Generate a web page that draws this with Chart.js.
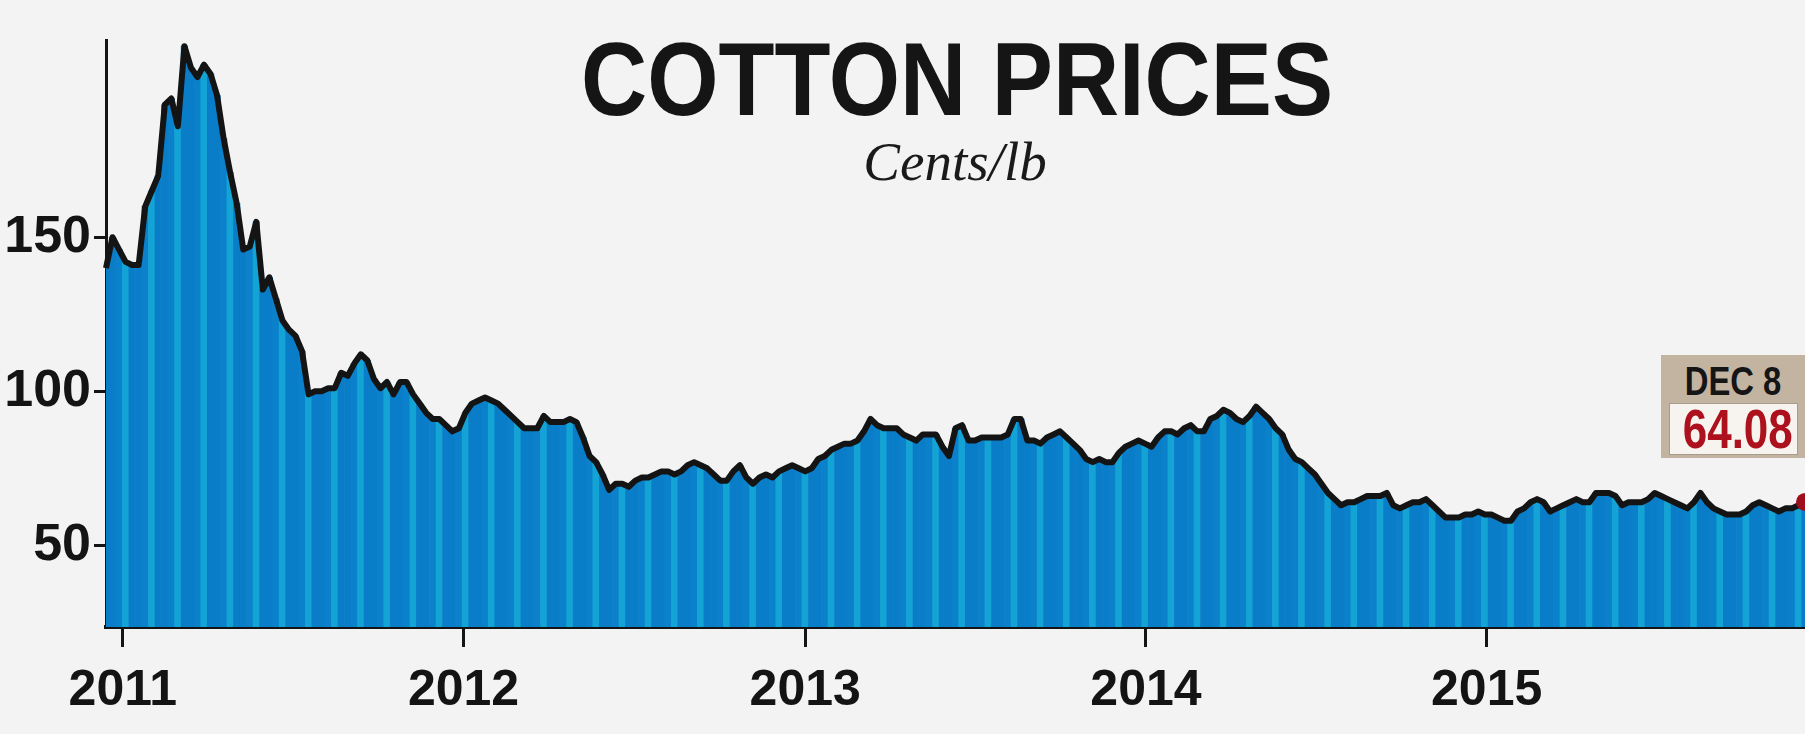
<!DOCTYPE html>
<html>
<head>
<meta charset="utf-8">
<title>Cotton prices</title>
<script src="https://cdn.jsdelivr.net/npm/chart.js@4.4.1/dist/chart.umd.min.js"></script>
<style>
  html, body {
    margin: 0;
    padding: 0;
    background: #f3f3f3;
  }
  #Wrap {
    position: relative;
    width: 1805px;
    height: 734px;
    overflow: hidden;
    background: #f3f3f3;
  }
  #PriceChart {
    position: absolute;
    left: 0;
    top: 0;
  }
  .Title {
    position: absolute;
    left: 957px;
    top: 28px;
    transform: translateX(-50%) scaleX(0.89);
    font: bold 103px/1 "Liberation Sans", Arial, sans-serif;
    color: #151515;
    white-space: nowrap;
  }
  .Unit {
    position: absolute;
    left: 955px;
    top: 134px;
    transform: translateX(-50%);
    font: italic 55px/1 "Liberation Serif", "DejaVu Serif", serif;
    color: #1a1a1a;
    white-space: nowrap;
  }
  .Callout {
    position: absolute;
    left: 1661px;
    top: 355px;
    width: 144px;
    height: 103px;
    background: #c3b4a2;
  }
  .CalloutDate {
    position: absolute;
    left: 0;
    top: 6px;
    width: 144px;
    text-align: center;
    transform: scaleX(0.82);
    font: bold 40px/1 "Liberation Sans", Arial, sans-serif;
    color: #151515;
  }
  .CalloutBox {
    position: absolute;
    left: 8px;
    top: 48px;
    width: 127px;
    height: 50px;
    background: #f7f4f0;
    border: 1px solid #a99b8b;
  }
  .CalloutValue {
    width: 127px;
    text-align: center;
    transform: scaleX(0.8);
    font: bold 55px/50px "Liberation Sans", Arial, sans-serif;
    color: #ad111e;
  }
</style>
</head>
<body>
<div id="Wrap">
  <canvas id="PriceChart" width="1805" height="734"></canvas>
  <div class="Title">COTTON PRICES</div>
  <div class="Unit">Cents/lb</div>
  <div class="Callout">
    <div class="CalloutDate">DEC 8</div>
    <div class="CalloutBox"><div class="CalloutValue">64.08</div></div>
  </div>
</div>
<script>
// weekly closes, cents/lb, first week of the series
const firstWeek = [2010, 11, 14];
const yearTicks = [2011, 2012, 2013, 2014, 2015];
const priceTicks = [50, 100, 150];

const weeklyPrices = [
  140, 150, 146, 142, 141, 141, 160, 165, 170, 193,
  195, 186, 212, 205, 202, 206, 203, 196, 182, 171,
  161, 146, 147, 155, 133, 137, 130, 123, 120, 118,
  113, 99, 100, 100, 101, 101, 106, 105, 109, 112,
  110, 104, 101, 103, 99, 103, 103, 99, 96, 93,
  91, 91, 89, 87, 88, 93, 96, 97, 98, 97,
  96, 94, 92, 90, 88, 88, 88, 92, 90, 90,
  90, 91, 90, 85, 79, 77, 73, 68, 70, 70,
  69, 71, 72, 72, 73, 74, 74, 73, 74, 76,
  77, 76, 75, 73, 71, 71, 74, 76, 72, 70,
  72, 73, 72, 74, 75, 76, 75, 74, 75, 78,
  79, 81, 82, 83, 83, 84, 87, 91, 89, 88,
  88, 88, 86, 85, 84, 86, 86, 86, 82, 79,
  88, 89, 84, 84, 85, 85, 85, 85, 86, 91,
  91, 84, 84, 83, 85, 86, 87, 85, 83, 81,
  78, 77, 78, 77, 77, 80, 82, 83, 84, 83,
  82, 85, 87, 87, 86, 88, 89, 87, 87, 91,
  92, 94, 93, 91, 90, 92, 95, 93, 91, 88,
  86, 81, 78, 77, 75, 73, 70, 67, 65, 63,
  64, 64, 65, 66, 66, 66, 67, 63, 62, 63,
  64, 64, 65, 63, 61, 59, 59, 59, 60, 60,
  61, 60, 60, 59, 58, 58, 61, 62, 64, 65,
  64, 61, 62, 63, 64, 65, 64, 64, 67, 67,
  67, 66, 63, 64, 64, 64, 65, 67, 66, 65,
  64, 63, 62, 64, 67, 64, 62, 61, 60, 60,
  60, 61, 63, 64, 63, 62, 61, 62, 62, 63,
  64.08,
];

const stripeColors = ["#0a7dc9", "#0a7dc9", "#0b80cb", "#14a3d5"];
const inkColor = "#141414";
const labelFont = {
  family: '"Liberation Sans", Arial, sans-serif',
  weight: "bold",
  size: 50,
};

const dayMs = 86400000;
const originMs = Date.UTC(2011, 0, 1);
const startMs = Date.UTC(firstWeek[0], firstWeek[1], firstWeek[2]);

function dayOfYearStart(year) {
  return (Date.UTC(year, 0, 1) - originMs) / dayMs;
}

const points = weeklyPrices.map((price, index) => ({
  x: (startMs + index * 7 * dayMs - originMs) / dayMs,
  y: price,
}));
const lastIndex = points.length - 1;

new Chart(document.querySelector("#PriceChart"), {
  data: {
    datasets: [
      {
        type: "line",
        data: points,
        borderColor: inkColor,
        borderWidth: 6,
        borderJoinStyle: "round",
        tension: 0,
        pointRadius: (ctx) => (ctx.dataIndex === lastIndex ? 9 : 0),
        pointBackgroundColor: "#9e0f1b",
        pointBorderWidth: 0,
        clip: false,
        order: 1,
      },
      {
        type: "bar",
        data: points,
        backgroundColor: (ctx) => stripeColors[ctx.dataIndex % stripeColors.length],
        borderWidth: 0,
        barPercentage: 1,
        categoryPercentage: 1,
        order: 2,
      },
    ],
  },
  options: {
    responsive: false,
    devicePixelRatio: 1,
    animation: false,
    layout: {
      autoPadding: false,
      padding: { top: 40, right: 0, bottom: 0, left: 0 },
    },
    plugins: {
      legend: { display: false },
      tooltip: { enabled: false },
    },
    scales: {
      x: {
        type: "linear",
        min: points[0].x,
        max: points[lastIndex].x,
        offset: false,
        afterBuildTicks: (scale) => {
          scale.ticks = yearTicks.map((year) => ({ value: dayOfYearStart(year) }));
        },
        afterFit: (scale) => {
          scale.height = 107;
        },
        ticks: {
          autoSkip: false,
          maxRotation: 0,
          padding: 14,
          color: inkColor,
          font: labelFont,
          callback: (value) => {
            const year = yearTicks.find((y) => dayOfYearStart(y) === value);
            return year ? String(year) : null;
          },
        },
        grid: {
          offset: false,
          drawOnChartArea: false,
          tickLength: 20,
          tickWidth: 3,
          tickColor: inkColor,
        },
        border: { color: inkColor, width: 4 },
      },
      y: {
        min: 23.5,
        max: 214,
        afterBuildTicks: (scale) => {
          scale.ticks = priceTicks.map((value) => ({ value }));
        },
        afterFit: (scale) => {
          scale.width = 106;
        },
        ticks: {
          padding: 3,
          color: inkColor,
          font: { ...labelFont, size: 52 },
        },
        grid: {
          drawOnChartArea: false,
          tickLength: 12,
          tickWidth: 3,
          tickColor: inkColor,
        },
        border: { color: inkColor, width: 3 },
      },
    },
  },
});
</script>
</body>
</html>
